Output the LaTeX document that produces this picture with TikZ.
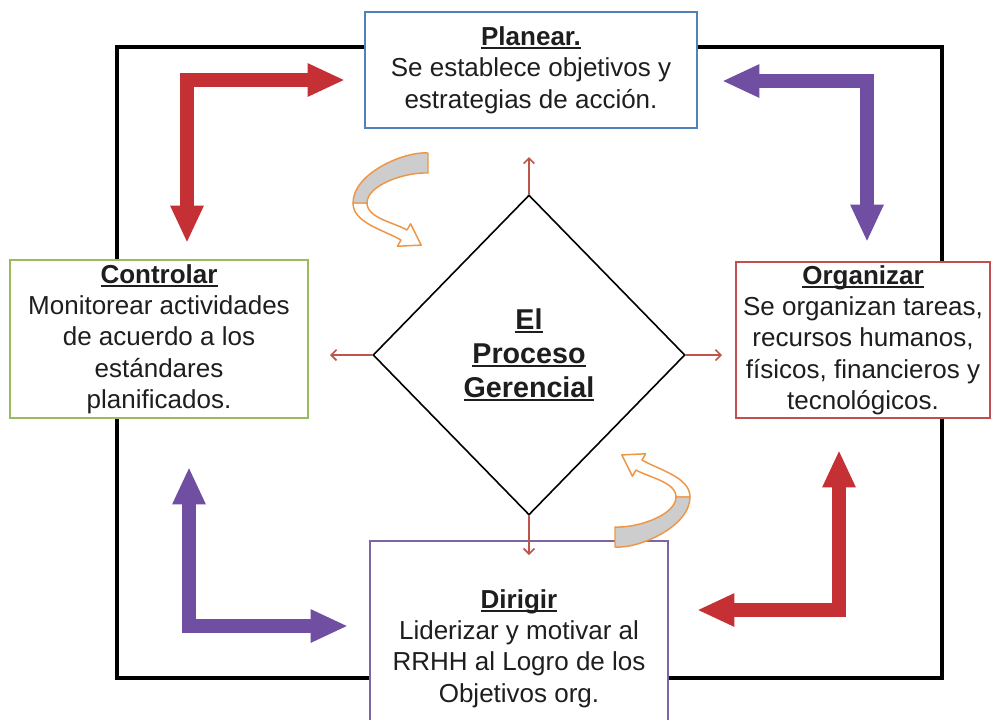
\documentclass[tikz,border=0pt]{standalone}
\usepackage{fontspec}
\setmainfont{Liberation Sans}
\usetikzlibrary{arrows.meta,shapes.geometric}

\definecolor{txt}{RGB}{30,30,30}
\definecolor{boxblue}{RGB}{79,129,189}
\definecolor{boxgreen}{RGB}{155,187,89}
\definecolor{boxred}{RGB}{192,80,77}
\definecolor{boxpurple}{RGB}{128,100,162}
\definecolor{arrred}{RGB}{196,48,52}
\definecolor{arrpurple}{RGB}{112,78,162}
\definecolor{tickred}{RGB}{190,85,75}
\definecolor{curlorange}{RGB}{238,150,70}
\definecolor{curlgrey}{RGB}{205,205,205}

\newcommand{\hdr}[1]{\setbox0\hbox{\textbf{#1}}\rlap{\rule[-3pt]{\wd0}{1.6pt}}\box0}

\begin{document}
\begin{tikzpicture}[x=0.75pt,y=0.75pt,yscale=-1,xscale=1,
  box/.style={draw, fill=white, line width=1.5pt, inner sep=2pt, align=center, text=txt, font=\fontsize{19.5}{23.5}\selectfont},
  fatarrow/.style={line width=11pt, line join=miter, <->, >={Triangle[length=28pt,width=23pt]}},
  tick/.style={draw=tickred, line width=1.2pt, -{Straight Barb[length=4pt,width=8pt]}},
  pics/curl/.style={code={
    \filldraw[draw=curlorange, fill=white, line width=1.1pt, line join=round] (-42,0) .. controls (-42,-20) and (-11,-27) .. (6,-37) -- (2.4,-43.2) -- (26.2,-42.1) -- (15.6,-20.8) -- (12,-27) .. controls (-1,-19.5) and (-28,-15) .. (-28,0) -- cycle;
    \filldraw[draw=curlorange, fill=curlgrey, line width=1.1pt, line join=round] (33,50) .. controls (10,52) and (-42,30) .. (-42,0) -- (-28,0) .. controls (-28,18) and (10,31) .. (33,30) -- cycle;
  }}]
        \clip (0,0) rectangle (992,719);
        \fill[white] (0,0) rectangle (992,719);

        % outer frame
        \draw[line width=2.5pt] (117,47) rectangle (942,678);

        \node[box, draw=boxblue, minimum width=249pt, minimum height=87pt] (plan) at (531,70) {\hdr{Planear.}\\Se establece objetivos y\\estrategias de acción.};
        \node[box, draw=boxgreen, minimum width=223.5pt, minimum height=118.5pt] (ctrl) at (159,339) {\hdr{Controlar}\\Monitorear actividades\\de acuerdo a los\\estándares\\planificados.};
        \node[box, draw=boxred, minimum width=190.5pt, minimum height=117pt] (org) at (863,340) {\hdr{Organizar}\\Se organizan tareas,\\recursos humanos,\\físicos, financieros y\\tecnológicos.};
        \node[box, draw=boxpurple, minimum width=223.5pt, minimum height=161pt, anchor=north] (dir) at (519,540) {\hdr{Dirigir}\\Liderizar y motivar al\\RRHH al Logro de los\\Objetivos org.};

        \node[diamond, draw, fill=white, line width=1.2pt, minimum width=234pt, minimum height=240pt, inner sep=0pt, align=center, text=txt, font=\fontsize{21.5}{25.5}\selectfont] (core) at (529,355) {\hdr{El}\\\hdr{Proceso}\\\hdr{Gerencial}};

        % small arrows out of the diamond
        \coordinate (tn) at (529,157);
        \coordinate (tw) at (330,355);
        \coordinate (te) at (722,355);
        \coordinate (ts) at (529,555);
        \draw[tick] (core.north) -- (tn);
        \draw[tick] (core.west) -- (tw);
        \draw[tick] (core.east) -- (te);
        \draw[tick] (core.south) -- (ts);

        % corner arrows
        \coordinate (rA) at (345,80);
        \coordinate (rB) at (187,243);
        \coordinate (pA) at (722,81);
        \coordinate (pB) at (867,242);
        \coordinate (qA) at (189,467);
        \coordinate (qB) at (348,626);
        \coordinate (sA) at (839,450);
        \coordinate (sB) at (697,610);
        \draw[fatarrow, draw=arrred] (rA) -| (rB);
        \draw[fatarrow, draw=arrpurple] (pA) -| (pB);
        \draw[fatarrow, draw=arrpurple] (qA) |- (qB);
        \draw[fatarrow, draw=arrred] (sA) |- (sB);

        % curled arrows
        \pic at (395,203) {curl};
        \pic[rotate=180] at (648,497) {curl};
\end{tikzpicture}
\end{document}
